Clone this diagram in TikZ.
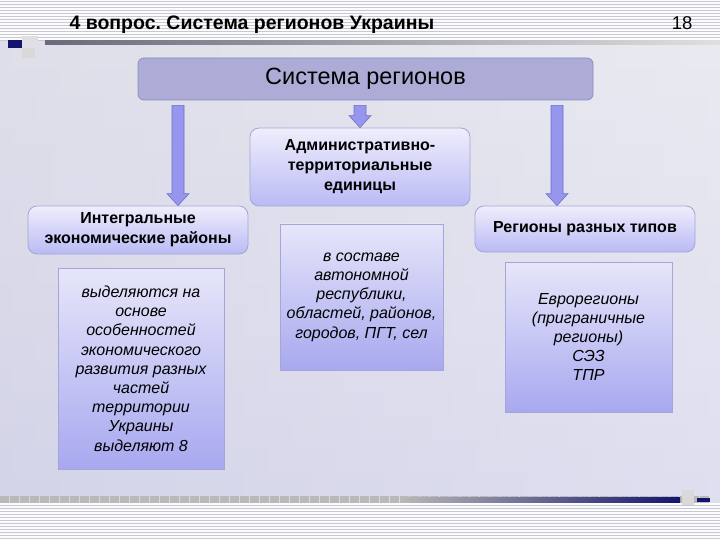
\documentclass[tikz,border=0pt]{standalone}
\usepackage{fontspec}
\setmainfont{Liberation Sans}
\usetikzlibrary{calc}
\frenchspacing

\definecolor{bgtop}{RGB}{224,224,234}
\definecolor{bgbot}{RGB}{204,204,232}
\definecolor{stripe}{RGB}{200,200,212}
\definecolor{sysfill}{RGB}{172,172,214}
\definecolor{sysline}{RGB}{140,140,192}
\definecolor{boxtop}{RGB}{238,238,252}
\definecolor{boxbot}{RGB}{186,186,245}
\definecolor{boxline}{RGB}{165,165,215}
\definecolor{recttop}{RGB}{230,230,250}
\definecolor{rectbot}{RGB}{168,168,240}
\definecolor{arrfill}{RGB}{150,150,238}
\definecolor{arrline}{RGB}{110,110,205}
\definecolor{navy}{RGB}{20,20,110}

% block arrow between two points (goes down)
\newcommand\blockarrow[2]{%
  \path[arrowbody] let \p1=(#1), \p2=(#2) in
    ({\x1-6pt},\y1) -- ({\x1+6pt},\y1) -- ({\x1+6pt},{\y2+12pt})
    -- ({\x1+11pt},{\y2+12pt}) -- (\x1,\y2) -- ({\x1-11pt},{\y2+12pt})
    -- ({\x1-6pt},{\y2+12pt}) -- cycle;}

\begin{document}
\begin{tikzpicture}[x=1pt, y=-1pt,
    sysbox/.style={draw=sysline, fill=sysfill, rounded corners=6pt, line width=0.8pt,
      minimum width=455pt, minimum height=42pt, font=\fontsize{23.5}{28}\selectfont},
    headbox/.style={draw=boxline, top color=boxtop, bottom color=boxbot, rounded corners=9pt,
      line width=0.8pt, minimum width=220pt, align=center,
      font=\bfseries\fontsize{16}{20}\selectfont},
    textbox/.style={draw=boxline, top color=recttop, bottom color=rectbot, line width=0.6pt,
      align=center, font=\itshape\fontsize{16}{19.2}\selectfont},
    arrowbody/.style={fill=arrfill, draw=arrline, line width=0.6pt}]
  \useasboundingbox (0,0) rectangle (720,540);

  % Background
  \shade[top color=bgtop, bottom color=bgbot] (0,0) rectangle (720,540);
  \shade[left color=bgtop, right color=white, opacity=0.35] (0,0) rectangle (720,540);
  \fill[white!92!bgtop] (0,0) rectangle (720,40);
  \fill[white!92!bgtop] (0,503) rectangle (720,540);
  \foreach \y in {1,4,...,40} \draw[stripe, line width=0.9pt] (0,\y) -- (720,\y);
  \foreach \y in {505,508,...,540} \draw[stripe, line width=0.9pt] (0,\y) -- (720,\y);

  % Title bar
  \shade[left color=gray!80!navy, right color=gray!25] (45,41) rectangle (720,45);
  \fill[gray!25] (22,36) rectangle (38,42);
  \fill[gray!30] (22,48) rectangle (35,58);
  \fill[navy] (8,40) rectangle (22,48);
  \node[anchor=base west, font=\bfseries\fontsize{19.5}{23}\selectfont] (ttl) at (66,30)
    {4 вопрос. Система регионов Украины};
  \node[anchor=base east, font=\fontsize{18.5}{22}\selectfont] (num) at (696,30) {18};

  % Bottom bar
  \foreach \x in {0,10,...,700} \fill[gray!55] (\x,496) rectangle +(8.5,7);
  \shade[left color=gray!55, right color=navy] (400,497) rectangle (680,502);
  \fill[gray!30] (682,490) rectangle (694,505);
  \fill[navy] (697,498) rectangle (710,502);

  % Boxes
  \node[sysbox] (sys) at (365.5,79) {Система регионов};
  \node[headbox, minimum height=78pt] (adm) at (360,167)
    {Административно-\\территориальные\\единицы};
  \node[headbox, minimum height=48pt] (ieco) at (138,230)
    {Интегральные\\экономические районы};
  \node[headbox, minimum height=46pt] (types) at (585,229) {Регионы разных типов};

  \node[textbox, minimum width=166pt, minimum height=201pt] (econ) at (141,368.5)
    {выделяются на\\основе\\особенностей\\экономического\\развития разных\\частей\\территории\\Украины\\выделяют 8};
  \node[textbox, minimum width=163pt, minimum height=146pt] (admtxt) at (361.5,297)
    {в составе\\автономной\\республики,\\областей, районов,\\городов, ПГТ, сел};
  \node[textbox, minimum width=167pt, minimum height=150pt] (typetxt) at (588.5,337)
    {Еврорегионы\\(приграничные\\регионы)\\СЭЗ\\ТПР};

  % Arrows
  \coordinate (ssb) at ([yshift=-5pt]sys.south);
  \coordinate (la) at (178,0);
  \coordinate (ra) at (557,0);
  \blockarrow{ssb -| la}{ieco.north -| la}
  \blockarrow{ssb -| adm.north}{adm.north}
  \blockarrow{ssb -| ra}{types.north -| ra}
\end{tikzpicture}
\end{document}
